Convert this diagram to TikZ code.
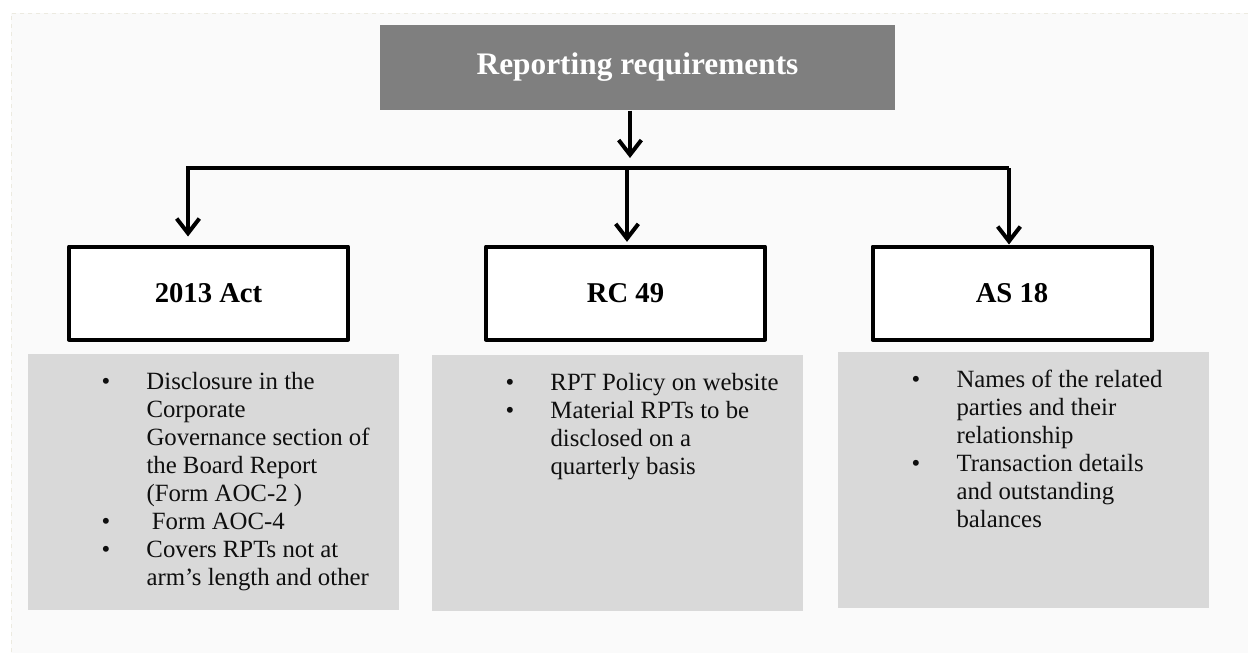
\documentclass[tikz,border=0pt]{standalone}
\usepackage{fontspec}
\setmainfont{Liberation Serif}
\usetikzlibrary{arrows.meta}

\definecolor{pagebg}{RGB}{250,250,250}
\definecolor{pageedge}{RGB}{236,234,224}
\definecolor{headgray}{RGB}{127,127,127}
\definecolor{notegray}{RGB}{217,217,217}
\definecolor{notetext}{RGB}{15,15,15}

\tikzset{every picture/.style={line width=0.75pt}}
\tikzset{
  headbox/.style={fill=headgray, text=white, inner sep=0pt,
    minimum width=386.25pt, minimum height=63.75pt,
    font=\fontsize{23.5}{27}\selectfont\bfseries},
  actbox/.style={draw=black, fill=white, line width=3pt, line join=round, inner sep=0pt,
    minimum width=209.25pt, minimum height=69.75pt,
    font=\fontsize{21.5}{25}\selectfont\bfseries},
  notebox/.style={fill=notegray, inner sep=0pt,
    minimum width=278.25pt, minimum height=192pt},
  listtext/.style={text=notetext, inner sep=0pt, anchor=base west,
    font=\fontsize{18.6}{21}\selectfont},
  conn/.style={line width=3pt, -{Straight Barb[length=11pt,width=17pt,line width=3pt]}}
}

\begin{document}
\begin{tikzpicture}[x=0.75pt,y=0.75pt,yscale=-1,xscale=1]
\useasboundingbox (0,0) rectangle (1248,653);

%Page background
\fill[pagebg] (11,13) rectangle (1248,653);
\draw[pageedge, dashed] (1248,13) -- (11,13) -- (11,653);

%Shape: Rectangle - heading
\node[headbox] (top) at (637.5,67.5) {Reporting requirements};

%Shape: Rectangle - three sources
\node[actbox] (act) at (208.5,293) {2013 Act};
\node[actbox] (rc) at (625.5,293) {RC 49};
\node[actbox] (as) at (1012,293) {AS 18};

%Shape: Rectangle - notes
\node[notebox] (actnote) at (213.5,482) {};
\node[notebox] (rcnote) at (617.5,483) {};
\node[notebox] (asnote) at (1023.5,480) {};

%Bus line
\coordinate (hub) at (630,158);
\coordinate (busL) at (188,168);
\coordinate (busM) at (627,168);
\coordinate (busR) at (1009,168);

%Straight Lines with arrows
\draw[conn] (top.south -| hub) -- (hub);
\draw[conn, shorten >=6pt] (busR) -- (busL) -- (busL |- act.north);
\draw[conn, shorten >=2pt] (busM) -- (busM |- rc.north);
\draw[conn] (busR) -- (busR |- as.north);

% Text Node
\node[listtext] (actlist) at (101,389) {\begin{tabular}[t]{@{}p{33.75pt}@{}l@{}}
\textbullet & Disclosure in the\\
 & Corporate\\
 & Governance section of\\
 & the Board Report\\
 & (Form AOC-2 )\\
\textbullet & \hspace{4pt}Form AOC-4\\
\textbullet & Covers RPTs not at\\
 & arm's length and other
\end{tabular}};
% Text Node
\node[listtext] (rclist) at (505,390) {\begin{tabular}[t]{@{}p{33.75pt}@{}l@{}}
\textbullet & RPT Policy on website\\
\textbullet & Material RPTs to be\\
 & disclosed on a\\
 & quarterly basis
\end{tabular}};
% Text Node
\node[listtext] (aslist) at (911,387) {\begin{tabular}[t]{@{}p{33.75pt}@{}l@{}}
\textbullet & Names of the related\\
 & parties and their\\
 & relationship\\
\textbullet & Transaction details\\
 & and outstanding\\
 & balances
\end{tabular}};

\end{tikzpicture}
\end{document}
